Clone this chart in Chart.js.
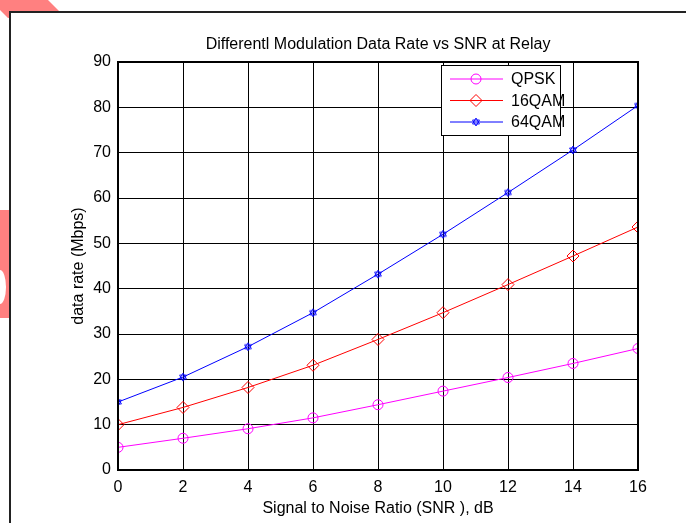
<!DOCTYPE html>
<html lang="en">
<head>
  <meta charset="UTF-8" />
  <title>Differentl Modulation Data Rate vs SNR at Relay</title>
  <script src="https://cdn.jsdelivr.net/npm/chart.js"></script>
  <style>
    html, body { margin: 0; padding: 0; background: #fff; }
    #wrap { width: 686px; height: 523px; position: relative; }
  </style>
</head>
<body>
  <div id="wrap"><canvas id="chart"></canvas></div>

  <script>
    // data
    const snr = [0, 2, 4, 6, 8, 10, 12, 14, 16];
    const qpsk = [5, 7, 9.1, 11.5, 14.4, 17.4, 20.4, 23.5, 26.8];
    const qam16 = [10, 13.8, 18.2, 23.1, 28.8, 34.7, 40.9, 47.2, 53.6];
    const qam64 = [15, 20.5, 27.2, 34.7, 43.2, 52, 61.2, 70.6, 80.4];
    const seriesNames = ['QPSK', '16QAM', '64QAM'];
    const yTicks = [0, 10, 20, 30, 40, 50, 60, 70, 80, 90];

    const font = 'Liberation Sans, Arial, sans-serif';

    // matlab style hexagram marker
    function hexagram(color) {
      const cv = document.createElement('canvas');
      cv.width = 10; cv.height = 10;
      const g = cv.getContext('2d');
      g.strokeStyle = color;
      g.lineWidth = 0.9;
      const r = 4, cx = 5, cy = 5;
      [-Math.PI / 2, Math.PI / 2].forEach(a0 => {
        g.beginPath();
        for (let k = 0; k < 3; k++) {
          const a = a0 + k * 2 * Math.PI / 3;
          const x = cx + r * Math.cos(a), y = cy + r * Math.sin(a);
          if (k === 0) g.moveTo(x, y); else g.lineTo(x, y);
        }
        g.closePath();
        g.stroke();
      });
      return cv;
    }

    // page frame + stray pink marks behind it
    const backdrop = {
      id: 'backdrop',
      beforeDraw(c) {
        const ctx = c.ctx;
        ctx.save();
        ctx.fillStyle = '#fff';
        ctx.fillRect(0, 0, c.width, c.height);
        ctx.fillStyle = '#ff8080';
        ctx.beginPath();
        ctx.moveTo(0, 0); ctx.lineTo(48, 0); ctx.lineTo(62, 14); ctx.lineTo(8, 18); ctx.lineTo(0, 10);
        ctx.closePath(); ctx.fill();
        ctx.fillRect(0, 210, 12, 108);
        ctx.fillStyle = '#fff';
        ctx.beginPath(); ctx.ellipse(0, 287, 6, 17, 0, 0, Math.PI * 2); ctx.fill();
        ctx.fillRect(10, 12, c.width, c.height);
        ctx.strokeStyle = '#222';
        ctx.lineWidth = 2;
        ctx.beginPath();
        ctx.moveTo(10, c.height); ctx.lineTo(10, 12); ctx.lineTo(c.width, 12);
        ctx.stroke();
        ctx.restore();
      },
      afterDraw(c) {
        const ctx = c.ctx, a = c.chartArea;
        ctx.save();
        // axes box
        ctx.strokeStyle = '#000';
        ctx.lineWidth = 2;
        ctx.strokeRect(a.left, a.top, a.right - a.left, a.bottom - a.top);
        // title
        ctx.fillStyle = '#000';
        ctx.font = '16px ' + font;
        ctx.textAlign = 'center';
        ctx.textBaseline = 'middle';
        ctx.fillText('Differentl Modulation Data Rate vs SNR at Relay', (a.left + a.right) / 2, 45);
        // legend box
        const lx = 441, ly = 65, lw = 119, lh = 70;
        ctx.fillStyle = '#fff';
        ctx.fillRect(lx, ly, lw, lh);
        ctx.lineWidth = 1;
        ctx.strokeStyle = '#000';
        ctx.strokeRect(lx + 0.5, ly + 0.5, lw, lh);
        c.data.datasets.forEach((ds, i) => {
          const y = ly + 14 + i * 21.5;
          ctx.strokeStyle = ds.borderColor;
          ctx.lineWidth = 1;
          ctx.beginPath(); ctx.moveTo(lx + 9, y); ctx.lineTo(lx + 62, y); ctx.stroke();
          ctx.fillStyle = 'rgba(0,0,0,0)';
          Chart.helpers.drawPoint(ctx, {
            pointStyle: ds.pointStyle, radius: ds.pointRadius, borderWidth: 1
          }, lx + 35, y);
          ctx.fillStyle = '#000';
          ctx.font = '16px ' + font;
          ctx.textAlign = 'left';
          ctx.fillText(ds.label, lx + 70, y + 1);
        });
        ctx.restore();
      }
    };

    function series(label, data, color, style, r) {
      return {
        label: label,
        data: data,
        borderColor: color,
        backgroundColor: 'rgba(0,0,0,0)',
        borderWidth: 1,
        pointStyle: style,
        pointRadius: r,
        pointBorderWidth: 1,
        pointBorderColor: color,
        pointBackgroundColor: 'rgba(0,0,0,0)',
        tension: 0
      };
    }

    new Chart(document.getElementById('chart'), {
      type: 'line',
      data: {
        labels: snr,
        datasets: [
          series(seriesNames[0], qpsk, '#ff00ff', 'circle', 5),
          series(seriesNames[1], qam16, '#ff0000', 'rectRot', 6),
          series(seriesNames[2], qam64, '#0000ff', hexagram('#0000ff'), 5)
        ]
      },
      options: {
        responsive: true,
        maintainAspectRatio: false,
        animation: false,
        layout: { padding: { left: 0, right: 48, top: 62, bottom: 0 } },
        plugins: { legend: { display: false }, title: { display: false }, tooltip: { enabled: false } },
        scales: {
          x: {
            type: 'linear',
            min: 0, max: 16,
            afterFit: s => { s.height = 53; },
            afterBuildTicks: s => { s.ticks = snr.map(v => ({ value: v })); },
            grid: { color: '#000', lineWidth: 1, drawTicks: false },
            border: { color: '#000', width: 2 },
            ticks: { color: '#000', padding: 8, font: { family: font, size: 16 }, maxRotation: 0 },
            title: {
              display: true, text: 'Signal to Noise Ratio (SNR ), dB', color: '#000',
              font: { family: font, size: 16 }, padding: { top: 0, bottom: 5 }
            }
          },
          y: {
            min: 0, max: 90,
            afterFit: s => { s.width = 118; },
            afterBuildTicks: s => { s.ticks = yTicks.map(v => ({ value: v })); },
            grid: { color: '#000', lineWidth: 1, drawTicks: false },
            border: { color: '#000', width: 2 },
            ticks: { color: '#000', padding: 7, font: { family: font, size: 16 } },
            title: {
              display: true, text: 'data rate (Mbps)', color: '#000',
              font: { family: font, size: 16 }, padding: { top: 69, bottom: 0 }
            }
          }
        }
      },
      plugins: [backdrop]
    });
  </script>
</body>
</html>
